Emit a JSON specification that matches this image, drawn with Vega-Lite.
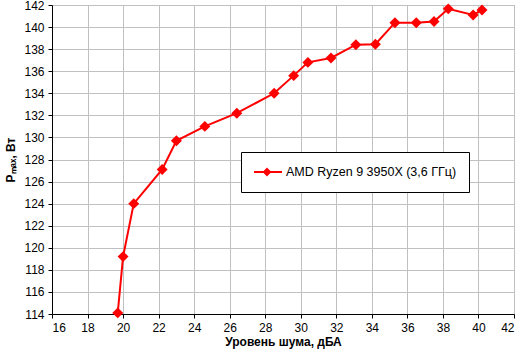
{
  "$schema": "https://vega.github.io/schema/vega-lite/v6.json",
  "autosize": "none",
  "width": 462,
  "height": 309,
  "padding": {"left": 52, "top": 5, "right": 6, "bottom": 43},
  "background": "white",
  "config": {
    "font": "Liberation Sans",
    "view": {"stroke": "#808080", "strokeWidth": 1},
    "axis": {
      "gridColor": "#c0c0c0",
      "gridWidth": 1,
      "gridOpacity": 1,
      "domainColor": "black",
      "domainWidth": 1,
      "tickColor": "black",
      "tickSize": 4,
      "labelFont": "Liberation Sans",
      "labelFontSize": 12,
      "labelColor": "black",
      "titleFont": "Liberation Sans",
      "titleFontSize": 12,
      "titleFontWeight": "bold",
      "titleColor": "black"
    }
  },
  "data": {
    "values": [
      {"noise": 19.7, "p": 114.1, "series": "AMD Ryzen 9 3950X (3,6 ГГц)"},
      {"noise": 20.0, "p": 119.2, "series": "AMD Ryzen 9 3950X (3,6 ГГц)"},
      {"noise": 20.6, "p": 124.0, "series": "AMD Ryzen 9 3950X (3,6 ГГц)"},
      {"noise": 22.2, "p": 127.1, "series": "AMD Ryzen 9 3950X (3,6 ГГц)"},
      {"noise": 23.0, "p": 129.7, "series": "AMD Ryzen 9 3950X (3,6 ГГц)"},
      {"noise": 24.6, "p": 131.0, "series": "AMD Ryzen 9 3950X (3,6 ГГц)"},
      {"noise": 26.4, "p": 132.2, "series": "AMD Ryzen 9 3950X (3,6 ГГц)"},
      {"noise": 28.5, "p": 134.0, "series": "AMD Ryzen 9 3950X (3,6 ГГц)"},
      {"noise": 29.6, "p": 135.6, "series": "AMD Ryzen 9 3950X (3,6 ГГц)"},
      {"noise": 30.4, "p": 136.8, "series": "AMD Ryzen 9 3950X (3,6 ГГц)"},
      {"noise": 31.7, "p": 137.2, "series": "AMD Ryzen 9 3950X (3,6 ГГц)"},
      {"noise": 33.1, "p": 138.4, "series": "AMD Ryzen 9 3950X (3,6 ГГц)"},
      {"noise": 34.2, "p": 138.45, "series": "AMD Ryzen 9 3950X (3,6 ГГц)"},
      {"noise": 35.3, "p": 140.4, "series": "AMD Ryzen 9 3950X (3,6 ГГц)"},
      {"noise": 36.5, "p": 140.4, "series": "AMD Ryzen 9 3950X (3,6 ГГц)"},
      {"noise": 37.5, "p": 140.5, "series": "AMD Ryzen 9 3950X (3,6 ГГц)"},
      {"noise": 38.3, "p": 141.65, "series": "AMD Ryzen 9 3950X (3,6 ГГц)"},
      {"noise": 39.7, "p": 141.1, "series": "AMD Ryzen 9 3950X (3,6 ГГц)"},
      {"noise": 40.2, "p": 141.55, "series": "AMD Ryzen 9 3950X (3,6 ГГц)"}
    ]
  },
  "encoding": {
    "x": {
      "field": "noise", "type": "quantitative",
      "scale": {"domain": [16, 42], "nice": false, "zero": false},
      "axis": {"values": [16,18,20,22,24,26,28,30,32,34,36,38,40,42], "title": "Уровень шума, дБА", "labelPadding": 4, "titlePadding": 3}
    },
    "y": {
      "field": "p", "type": "quantitative",
      "scale": {"domain": [114, 142], "nice": false, "zero": false},
      "axis": {"values": [114,116,118,120,122,124,126,128,130,132,134,136,138,140,142], "title": "Pₘₐₓ, Вт", "labelPadding": 4, "titlePadding": 6}
    },
    "color": {
      "field": "series", "type": "nominal",
      "scale": {"range": ["#ff0000"]},
      "legend": {
        "title": null,
        "orient": "none",
        "legendX": 189,
        "legendY": 147,
        "strokeColor": "black",
        "fillColor": "white",
        "padding": 12,
        "symbolType": "M-1,0L3,0M0.857,-0.43L1.29,0L0.857,0.43L0.43,0Z",
        "symbolSize": 196,
        "symbolStrokeWidth": 2,
        "symbolFillColor": "#ff0000",
        "symbolStrokeColor": "#ff0000",
        "symbolOpacity": 1,
        "labelFont": "Liberation Sans",
        "labelFontSize": 12.5,
        "labelLimit": 400,
        "labelColor": "black",
        "labelOffset": 17
      }
    }
  },
  "layer": [
    {"mark": {"type": "line", "strokeWidth": 2}},
    {"mark": {"type": "point", "shape": "diamond", "filled": true, "size": 120, "opacity": 1}}
  ]
}
